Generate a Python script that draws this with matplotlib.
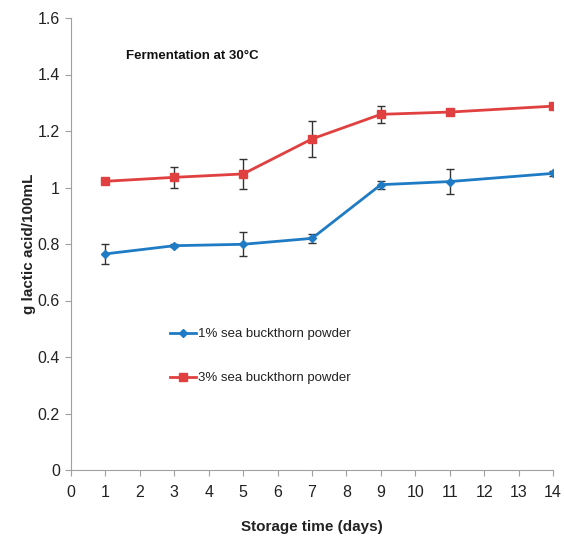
import matplotlib.pyplot as plt
from matplotlib.lines import Line2D

days = [1, 3, 5, 7, 9, 11, 14]

# 1% sea buckthorn powder
blue_vals = [0.765, 0.794, 0.799, 0.820, 1.010, 1.021, 1.050]
blue_err = [0.036, 0.005, 0.042, 0.015, 0.014, 0.044, 0.010]

# 3% sea buckthorn powder
red_vals = [1.022, 1.036, 1.048, 1.172, 1.259, 1.267, 1.288]
red_err = [0.010, 0.036, 0.052, 0.064, 0.030, 0.010, 0.010]

labels = ['1% sea buckthorn powder', '3% sea buckthorn powder']

plt.rcParams['font.family'] = ['Liberation Sans', 'DejaVu Sans']

fig = plt.figure(figsize=(5.64, 5.41), dpi=100)
ax = fig.add_axes([71/564, 71/541, 482/564, 452/541])

blue = '#1f7bc4'
red = '#e0403f'

ax.errorbar(days, blue_vals, yerr=blue_err, color=blue, lw=2.0, marker='D',
            ms=4, ecolor='#333333', elinewidth=1, capsize=3, capthick=1,
            zorder=3)
ax.errorbar(days, red_vals, yerr=red_err, color=red, lw=2.0, marker='s',
            ms=6, ecolor='#333333', elinewidth=1, capsize=3, capthick=1,
            zorder=3)

ax.set_xlim(0, 14)
ax.set_ylim(0, 1.6)
ax.set_xticks(range(0, 15))
ax.set_yticks([0, 0.2, 0.4, 0.6, 0.8, 1.0, 1.2, 1.4, 1.6])
ax.set_yticklabels(['0', '0.2', '0.4', '0.6', '0.8', '1', '1.2', '1.4', '1.6'])

for s in ['top', 'right']:
    ax.spines[s].set_visible(False)
for s in ['left', 'bottom']:
    ax.spines[s].set_color('#a0a0a0')
ax.tick_params(colors='#a0a0a0', labelcolor='#222222', labelsize=11.5,
               length=4, direction='out')
ax.tick_params(axis='y', pad=4)
ax.tick_params(axis='x', pad=7)

ax.set_xlabel('Storage time (days)', fontsize=11, fontweight='bold',
              color='#222222', labelpad=14)
ax.set_ylabel('g lactic acid/100mL', fontsize=11, fontweight='bold',
              color='#222222', labelpad=1)

ax.text(1.6, 1.455, 'Fermentation at 30°C', fontsize=9.5,
        fontweight='bold', color='#111111')

handles = [Line2D([], [], color=blue, lw=2.0, marker='D', ms=4),
           Line2D([], [], color=red, lw=2.0, marker='s', ms=6)]
leg = ax.legend(handles, labels, loc='upper left', bbox_to_anchor=(0.18, 0.34),
                frameon=False, fontsize=9.5, labelspacing=2.4,
                handlelength=2.0, handletextpad=0.15)
for t in leg.get_texts():
    t.set_color('#222222')

fig.savefig('out.png', dpi=100)
